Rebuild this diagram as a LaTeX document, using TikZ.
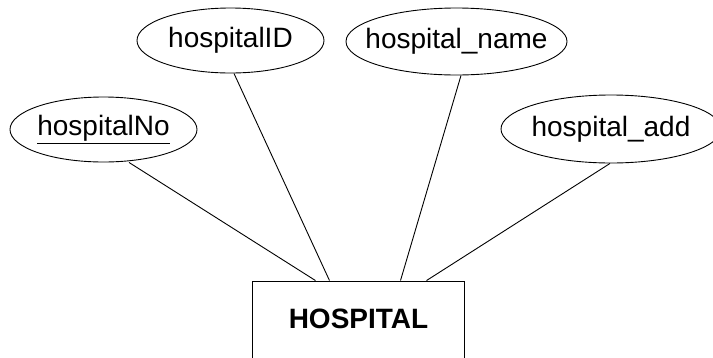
\documentclass[tikz,border=0pt]{standalone}
\usepackage{fontspec}
\setmainfont{Liberation Sans}
\usetikzlibrary{shapes.geometric}
\begin{document}
\begin{tikzpicture}[x=1pt,y=-1pt,
  attr/.style={ellipse, draw, line width=0.9pt, inner sep=0pt, font=\fontsize{28}{30}\selectfont},
  entity/.style={rectangle, draw, line width=0.9pt, minimum width=212pt, inner xsep=0pt, inner ysep=27pt,
    text height=20pt, text depth=30pt, font=\fontsize{28}{30}\selectfont\bfseries},
  link/.style={line width=0.9pt}]
\useasboundingbox (0,0) rectangle (713,357);
\node[attr, minimum width=187pt, minimum height=65pt] (no) at (103.5,129.5) {\makebox[0pt]{\underline{hospitalNo}}};
\node[attr, minimum width=187pt, minimum height=65pt] (id) at (230.5,40.5) {\makebox[0pt]{hospitalID}};
\node[attr, minimum width=221pt, minimum height=67pt] (name) at (456.5,41.5) {\makebox[0pt]{hospital\_name}};
\node[attr, minimum width=220pt, minimum height=68pt] (add) at (611,129) {\makebox[0pt]{hospital\_add}};
\node[entity, anchor=base] (hosp) at (358.5,328) {HOSPITAL};
\draw[link] ([xshift=25.5pt]no.south) -- ([xshift=-43pt]hosp.north);
\draw[link] ([xshift=3.5pt]id.south) -- ([xshift=-29pt]hosp.north);
\draw[link] ([xshift=4.5pt]name.south) -- ([xshift=42pt]hosp.north);
\draw[link] ([xshift=-1pt]add.south) -- ([xshift=68pt]hosp.north);
\end{tikzpicture}
\end{document}
